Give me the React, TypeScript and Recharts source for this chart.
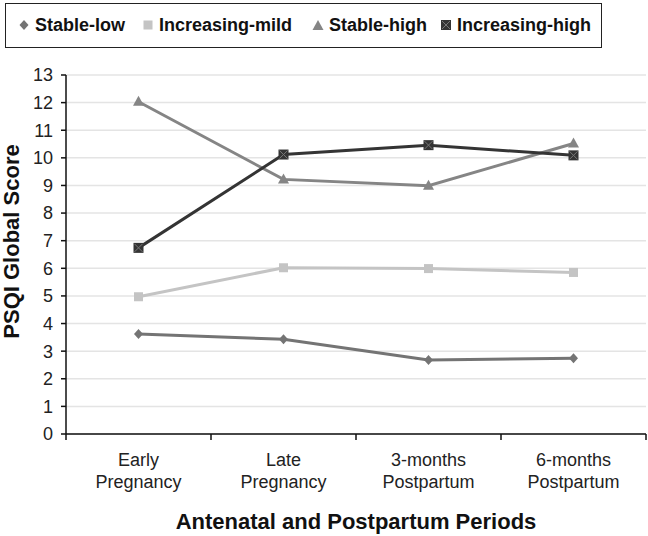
import React from "react";
import { LineChart, Line, XAxis, YAxis, CartesianGrid, Legend } from "recharts";

const periodLine1 = ["Early", "Late", "3-months", "6-months"];
const periodLine2 = ["Pregnancy", "Pregnancy", "Postpartum", "Postpartum"];
const stableLow = [3.62, 3.43, 2.68, 2.74];
const increasingMild = [4.97, 6.02, 5.99, 5.85];
const stableHigh = [12.03, 9.22, 8.99, 10.52];
const increasingHigh = [6.74, 10.12, 10.46, 10.09];
const yTicks = [0, 1, 2, 3, 4, 5, 6, 7, 8, 9, 10, 11, 12, 13];

const data = periodLine1.map((p, i) => ({
  x: i + 0.5,
  stableLow: stableLow[i],
  increasingMild: increasingMild[i],
  stableHigh: stableHigh[i],
  increasingHigh: increasingHigh[i],
}));

const xTicks = [0, 0.5, 1, 1.5, 2, 2.5, 3, 3.5, 4];

const FONT = "'Liberation Sans', Arial, Helvetica, sans-serif";

const C_LOW = "#747474";
const C_MILD = "#c4c4c4";
const C_SHIGH = "#858585";
const C_IHIGH = "#343434";

const Diamond = (props: any) => {
  const { cx, cy } = props;
  if (cx == null || cy == null) return null;
  return <path d={`M${cx},${cy - 5}L${cx + 4.5},${cy}L${cx},${cy + 5}L${cx - 4.5},${cy}Z`} fill={C_LOW} />;
};
const Square = (props: any) => {
  const { cx, cy } = props;
  if (cx == null || cy == null) return null;
  return <rect x={cx - 4.5} y={cy - 4.5} width={9} height={9} fill={C_MILD} />;
};
const Triangle = (props: any) => {
  const { cx, cy } = props;
  if (cx == null || cy == null) return null;
  return <path d={`M${cx},${cy - 6}L${cx + 5.5},${cy + 4}L${cx - 5.5},${cy + 4}Z`} fill={C_SHIGH} />;
};
const XSquare = (props: any) => {
  const { cx, cy } = props;
  if (cx == null || cy == null) return null;
  return (
    <g>
      <rect x={cx - 5} y={cy - 5} width={10} height={10} fill={C_IHIGH} />
      <path d={`M${cx - 4},${cy - 4}L${cx + 4},${cy + 4}M${cx + 4},${cy - 4}L${cx - 4},${cy + 4}`} stroke="#777" strokeWidth={1} />
    </g>
  );
};

const XTick = (props: any) => {
  const { x, y, payload } = props;
  const v = payload.value;
  if (Number.isInteger(v)) {
    return <line x1={x} x2={x} y1={y} y2={y + 6} stroke="#111" strokeWidth={1.5} />;
  }
  const i = Math.floor(v);
  return (
    <g>
      <text x={x} y={y + 32} textAnchor="middle" fontFamily={FONT} fontSize={18} fill="#222">{periodLine1[i]}</text>
      <text x={x} y={y + 54} textAnchor="middle" fontFamily={FONT} fontSize={18} fill="#222">{periodLine2[i]}</text>
    </g>
  );
};

const legendItems = [
  { name: "Stable-low", marker: "diamond", left: 12 },
  { name: "Increasing-mild", marker: "square", left: 136 },
  { name: "Stable-high", marker: "triangle", left: 306 },
  { name: "Increasing-high", marker: "xsquare", left: 434 },
];

const LegendMarker = ({ kind }: { kind: string }) => {
  if (kind === "diamond") return <svg width={12} height={12}><path d="M6,1L10.5,6L6,11L1.5,6Z" fill={C_LOW} /></svg>;
  if (kind === "square") return <svg width={12} height={12}><rect x={1.5} y={1.5} width={9} height={9} fill={C_MILD} /></svg>;
  if (kind === "triangle") return <svg width={12} height={12}><path d="M6,1L11.5,11L0.5,11Z" fill={C_SHIGH} /></svg>;
  return (
    <svg width={12} height={12}>
      <rect x={1} y={1} width={10} height={10} fill={C_IHIGH} />
      <path d="M2,2L10,10M10,2L2,10" stroke="#777" strokeWidth={1} />
    </svg>
  );
};

const LegendContent = () => (
  <div
    style={{
      position: "relative",
      width: 597,
      height: 45,
      border: "1.5px solid #222",
      boxSizing: "border-box",
      background: "#fff",
      fontFamily: FONT,
    }}
  >
    {legendItems.map((it) => (
      <div key={it.name} style={{ position: "absolute", left: it.left, top: 9, display: "flex", alignItems: "center" }}>
        <LegendMarker kind={it.marker} />
        <span style={{ marginLeft: 5, fontSize: 18, fontWeight: "bold", color: "#111", lineHeight: "24px" }}>{it.name}</span>
      </div>
    ))}
  </div>
);

export default function App() {
  return (
    <div style={{ position: "absolute", left: 0, top: 0, background: "#fff" }}>
      <LineChart width={648} height={536} data={data} margin={{ top: 75, right: 2, left: 0, bottom: 0 }}>
        <CartesianGrid vertical={false} stroke="#e4e4e4" strokeWidth={1.5} />
        <XAxis
          dataKey="x"
          type="number"
          domain={[0, 4]}
          ticks={xTicks}
          interval={0}
          tick={<XTick />}
          tickLine={false}
          tickSize={0}
          tickMargin={0}
          height={102}
          axisLine={{ stroke: "#111", strokeWidth: 1.5 }}
          label={{
            content: (p: any) => (
              <text
                x={p.viewBox.x + p.viewBox.width / 2}
                y={p.viewBox.y + 95}
                textAnchor="middle"
                fontFamily={FONT}
                fontSize={22}
                fontWeight="bold"
                fill="#111"
              >
                Antenatal and Postpartum Periods
              </text>
            ),
          }}
        />
        <YAxis
          type="number"
          domain={[0, 13]}
          ticks={yTicks}
          interval={0}
          width={66}
          tickSize={5}
          tickMargin={8}
          tick={{ fontFamily: FONT, fontSize: 18, fill: "#222" }}
          tickLine={{ stroke: "#111", strokeWidth: 1.5 }}
          axisLine={{ stroke: "#111", strokeWidth: 1.5 }}
          label={{
            content: (p: any) => {
              const cx = 19;
              const cy = p.viewBox.y + p.viewBox.height / 2 - 13;
              return (
                <text
                  x={cx}
                  y={cy}
                  transform={`rotate(-90 ${cx} ${cy})`}
                  textAnchor="middle"
                  fontFamily={FONT}
                  fontSize={22}
                  fontWeight="bold"
                  fill="#111"
                >
                  PSQI Global Score
                </text>
              );
            },
          }}
        />
        <Legend
          layout="horizontal"
          verticalAlign="middle"
          align="center"
          content={<LegendContent />}
          wrapperStyle={{ top: 3, left: 5, width: 597 }}
        />
        <Line dataKey="stableLow" name="Stable-low" stroke={C_LOW} strokeWidth={3} dot={<Diamond />} activeDot={false} isAnimationActive={false} />
        <Line dataKey="increasingMild" name="Increasing-mild" stroke={C_MILD} strokeWidth={3} dot={<Square />} activeDot={false} isAnimationActive={false} />
        <Line dataKey="stableHigh" name="Stable-high" stroke={C_SHIGH} strokeWidth={3} dot={<Triangle />} activeDot={false} isAnimationActive={false} />
        <Line dataKey="increasingHigh" name="Increasing-high" stroke={C_IHIGH} strokeWidth={3} dot={<XSquare />} activeDot={false} isAnimationActive={false} />
      </LineChart>
    </div>
  );
}
